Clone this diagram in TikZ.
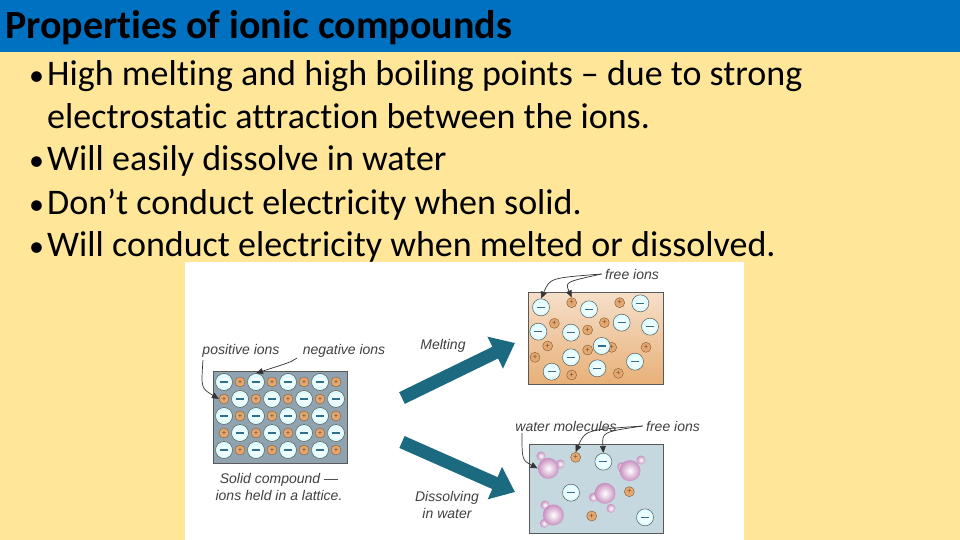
\documentclass[tikz,border=0pt]{standalone}
\usepackage{fontspec}
\setmainfont[RawFeature={-liga;-clig;-dlig;-calt}]{Carlito}
\newfontfamily\lab{Liberation Sans}
\usetikzlibrary{arrows.meta}
\definecolor{bg}{HTML}{FFE699}
\definecolor{bar}{HTML}{0070C0}
\definecolor{teal}{HTML}{1B6A80}
\definecolor{ionblue}{HTML}{2E6E95}
\definecolor{peach}{HTML}{E8B078}
\definecolor{pluscol}{HTML}{E3A872}
\definecolor{water}{HTML}{C5D7DF}
\definecolor{mol}{HTML}{C890C0}
\definecolor{latt}{HTML}{8FA3B0}
\begin{document}
\begin{tikzpicture}[x=1pt,y=-1pt,
  negion/.style={circle,draw=gray!70!black,line width=0.5pt,inner color=white,outer color=blue!8!cyan!15,minimum size=17pt,inner sep=0pt},
  posion/.style={circle,draw=brown!70!black,line width=0.4pt,fill=pluscol,minimum size=10pt,inner sep=0pt},
  lbl/.style={font=\lab\itshape\fontsize{14}{17}\selectfont,text=black!75},
  ptr/.style={-{Triangle[length=7pt,width=6pt]},line width=0.7pt,black!80},
  bigarr/.style={-{Triangle[length=22pt,width=34pt]},line width=13pt,teal},
  bul/.style={font=\fontsize{36}{40}\selectfont,anchor=base west,inner sep=0pt},
  dot/.style={font=\fontsize{30}{40}\selectfont,anchor=base west,inner sep=0pt}]
\useasboundingbox (0,0) rectangle (960,540);
\fill[bg] (0,0) rectangle (960,540);
\fill[bar] (0,0) rectangle (960,52);
\node[anchor=west,inner sep=0pt,font=\bfseries\fontsize{40}{44}\selectfont] (title) at (5,28) {Properties of ionic compounds};
\node[dot] (d0) at (29,86) {\textbullet};
\node[bul] (b0) at (47,86) {High melting and high boiling points – due to strong};
\node[bul] (b1) at (47,129) {electrostatic attraction between the ions.};
\node[dot] (d2) at (29,171) {\textbullet};
\node[bul] (b2) at (47,171) {Will easily dissolve in water};
\node[dot] (d3) at (29,214) {\textbullet};
\node[bul] (b3) at (47,214) {Don’t conduct electricity when solid.};
\node[dot] (d4) at (29,256) {\textbullet};
\node[bul] (b4) at (47,256) {Will conduct electricity when melted or dissolved.};
\fill[white] (185,262) rectangle (744,540);
% lattice
\fill[latt] (213,371) rectangle (347,463);
\draw[gray!70!black,line width=0.6pt] (213,371) rectangle (347,463);
\foreach \r/\y in {0/382,1/399,2/416,3/433,4/450}{
  \foreach \i in {0,...,7}{
    \pgfmathtruncatemacro{\t}{mod(\i+\r,2)}
    \pgfmathsetmacro{\xx}{224+16*\i}
    \ifnum\t=1
      \node[posion] (l\r\i) at (\xx,\y) {\fontsize{8}{8}\selectfont\textcolor{brown!60!black}{+}};
    \fi}}
\foreach \r/\y in {0/382,1/399,2/416,3/433,4/450}{
  \foreach \i in {0,...,7}{
    \pgfmathtruncatemacro{\t}{mod(\i+\r,2)}
    \pgfmathsetmacro{\xx}{224+16*\i}
    \ifnum\t=0
      \node[negion] (l\r\i) at (\xx,\y) {}; \draw[ionblue,line width=1.6pt] (\xx-4,\y) -- (\xx+4,\y);
    \fi}}
% melting box
\shade[top color=white!60!peach, bottom color=peach] (528,292) rectangle (663,384);
\draw[gray!70!black,line width=0.6pt] (528,292) rectangle (663,384);
\foreach \a/\b [count=\k] in {1160/128,1304/128,1108/190,1258/188,1208/210,1088/258,1208/270,1280/262,1383/262,1050/292,1160/345,1300/340}{
  \node[posion] (mp\k) at (\a/3+185,\b/3+260) {\fontsize{8}{8}\selectfont\textcolor{brown!60!black}{+}};}
\foreach \a/\b [count=\k] in {1068/142,1212/148,1366/130,1060/215,1158/218,1310/188,1395/200,1250/258,1158/292,1100/335,1237/325,1350/305}{
  \node[negion] (m\k) at (\a/3+185,\b/3+260) {};
  \draw[ionblue,line width=1.6pt] (\a/3+181,\b/3+260) -- (\a/3+189,\b/3+260);}
% water box
\fill[water] (529,444) rectangle (663,533);
\draw[gray!70!black,line width=0.6pt] (529,444) rectangle (663,533);
\foreach \a/\b/\c/\d/\e/\f [count=\k] in {1090/625/1068/588/1126/612, 1335/632/1310/620/1368/600, 1260/700/1225/712/1278/745, 1105/765/1080/735/1078/790}{
  \node[circle,minimum size=9pt,inner sep=0pt,inner color=white,outer color=mol] (wa\k) at (\c/3+185,\d/3+260) {};
  \node[circle,minimum size=9pt,inner sep=0pt,inner color=white,outer color=mol] (wb\k) at (\e/3+185,\f/3+260) {};
  \node[circle,minimum size=21pt,inner sep=0pt,inner color=white,outer color=mol] (w\k) at (\a/3+185,\b/3+260) {};}
\foreach \a/\b [count=\k] in {1255/605,1158/698,1380/772}{
  \node[negion] (wn\k) at (\a/3+185,\b/3+260) {};
  \draw[ionblue,line width=1.6pt] (\a/3+181,\b/3+260) -- (\a/3+189,\b/3+260);}
\foreach \a/\b [count=\k] in {1172/592,1333/695,1220/768}{
  \node[posion] (wp\k) at (\a/3+185,\b/3+260) {\fontsize{8}{8}\selectfont\textcolor{brown!60!black}{+}};}
% big arrows
\coordinate (ma) at (402,398); \coordinate (mb) at (515,343);
\coordinate (da) at (402,442); \coordinate (db) at (515,492);
\draw[bigarr] (ma) -- (mb);
\draw[bigarr] (da) -- (db);
% labels
\node[lbl] (pl) at (241,351) {positive ions};
\node[lbl] (nl) at (344,351) {negative ions};
\node[lbl,align=center] (sl) at (279,487) {Solid compound —\\ions held in a lattice.};
\node[lbl] (ml) at (443,346) {Melting};
\node[lbl,align=center] (dl) at (447,505) {Dissolving\\in water};
\node[lbl] (f1) at (632,274) {free ions};
\node[lbl] (wl) at (566,426) {water molecules};
\node[lbl] (f2) at (673,426) {free ions};
% pointers
\draw[ptr] (203,360) .. controls (201,388) .. (l10.west);
\draw[ptr] (297,358) .. controls (291,362) .. (l02.north);
\draw[ptr] (f1.west) .. controls (550,278) .. (m1.north);
\draw[ptr] (f1.west) .. controls (565,282) .. (mp1.north);
\draw[ptr] (522,433) .. controls (522,460) .. (w1.west);
\draw[ptr] (f2.west) .. controls (585,430) .. (wp1.north);
\draw[ptr] (f2.west) .. controls (602,432) .. (wn1.north);
\end{tikzpicture}
\end{document}
